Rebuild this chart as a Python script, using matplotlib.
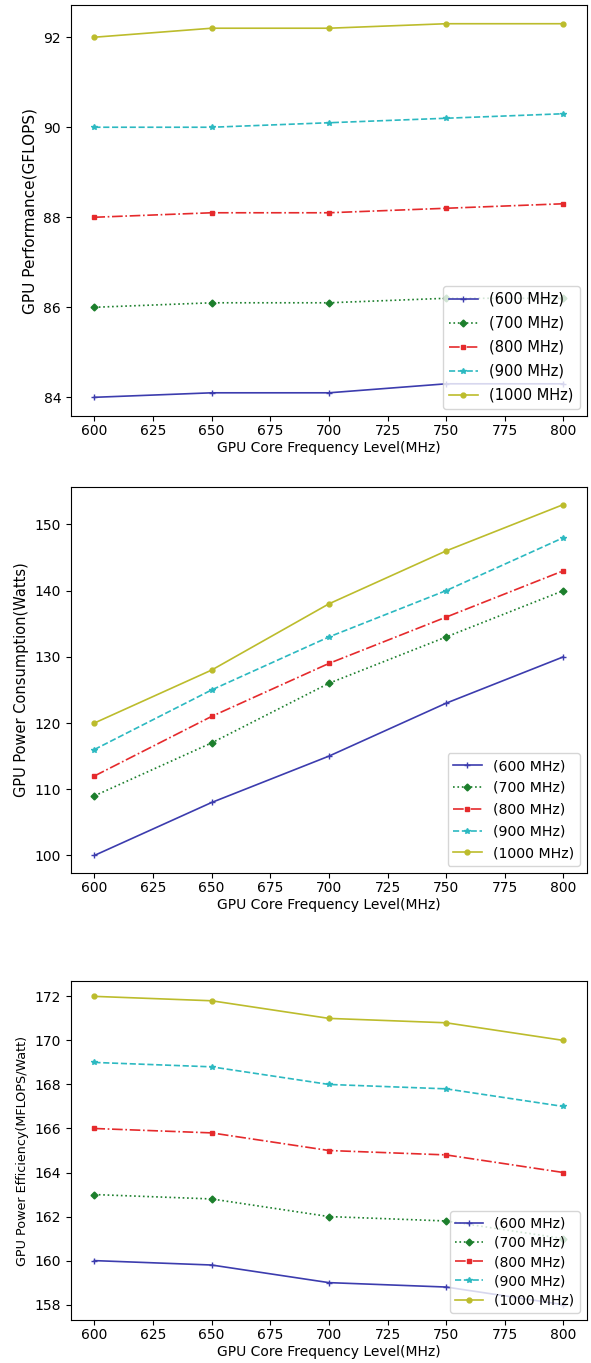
import matplotlib
matplotlib.use('Agg')
import matplotlib.pyplot as plt

freqs = [600, 650, 700, 750, 800]
labels = ['(600 MHz)', '(700 MHz)', '(800 MHz)', '(900 MHz)', '(1000 MHz)']

perf_600 = [84.0, 84.1, 84.1, 84.3, 84.3]
perf_700 = [86.0, 86.1, 86.1, 86.2, 86.2]
perf_800 = [88.0, 88.1, 88.1, 88.2, 88.3]
perf_900 = [90.0, 90.0, 90.1, 90.2, 90.3]
perf_1000 = [92.0, 92.2, 92.2, 92.3, 92.3]

power_600 = [100, 108, 115, 123, 130]
power_700 = [109, 117, 126, 133, 140]
power_800 = [112, 121, 129, 136, 143]
power_900 = [116, 125, 133, 140, 148]
power_1000 = [120, 128, 138, 146, 153]

eff_600 = [160.0, 159.8, 159.0, 158.8, 158.0]
eff_700 = [163.0, 162.8, 162.0, 161.8, 161.0]
eff_800 = [166.0, 165.8, 165.0, 164.8, 164.0]
eff_900 = [169.0, 168.8, 168.0, 167.8, 167.0]
eff_1000 = [172.0, 171.8, 171.0, 170.8, 170.0]

# estilo por frecuencia de memoria: color, linea, marcador, tamaño
estilos = [('#3c3cae', '-', '+', 5),
           ('#1c7f2c', ':', 'D', 3.5),
           ('#e52a2c', '-.', 's', 3.5),
           ('#2cb9c1', '--', '*', 4),
           ('#bcbc2c', '-', 'o', 3.5)]

fig = plt.figure(figsize=(5.91, 13.63), dpi=100)

# posicion, series, ylabel, yticks, tamaño ylabel, tamaño leyenda, espaciado leyenda
paneles = [
    ([0.120, 0.6948, 0.873, 0.3015], [perf_600, perf_700, perf_800, perf_900, perf_1000],
     'GPU Performance(GFLOPS)', [84, 86, 88, 90, 92], 11, 10.5, 0.62),
    ([0.120, 0.3595, 0.873, 0.2832], [power_600, power_700, power_800, power_900, power_1000],
     'GPU Power Consumption(Watts)', [100, 110, 120, 130, 140, 150], 10.5, 10.2, 0.55),
    ([0.120, 0.0315, 0.873, 0.2488], [eff_600, eff_700, eff_800, eff_900, eff_1000],
     'GPU Power Efficiency(MFLOPS/Watt)', [158, 160, 162, 164, 166, 168, 170, 172], 9.2, 10, 0.38),
]

for pos, series, ylab, yt, ysize, lsize, lspace in paneles:
    ax = fig.add_axes(pos)
    for vals, lab, (col, ls, mk, ms) in zip(series, labels, estilos):
        ax.plot(freqs, vals, color=col, linestyle=ls, marker=mk, markersize=ms,
                linewidth=1.2, label=lab)
    ax.set_xticks([600, 625, 650, 675, 700, 725, 750, 775, 800])
    ax.set_yticks(yt)
    ax.tick_params(labelsize=10)
    ax.tick_params(axis='x', pad=2.5)
    ax.set_xlabel('GPU Core Frequency Level(MHz)', fontsize=10, labelpad=2)
    ax.set_ylabel(ylab, fontsize=ysize)
    ax.legend(loc='lower right', fontsize=lsize, labelspacing=lspace)

fig.savefig('out.png', dpi=100)
